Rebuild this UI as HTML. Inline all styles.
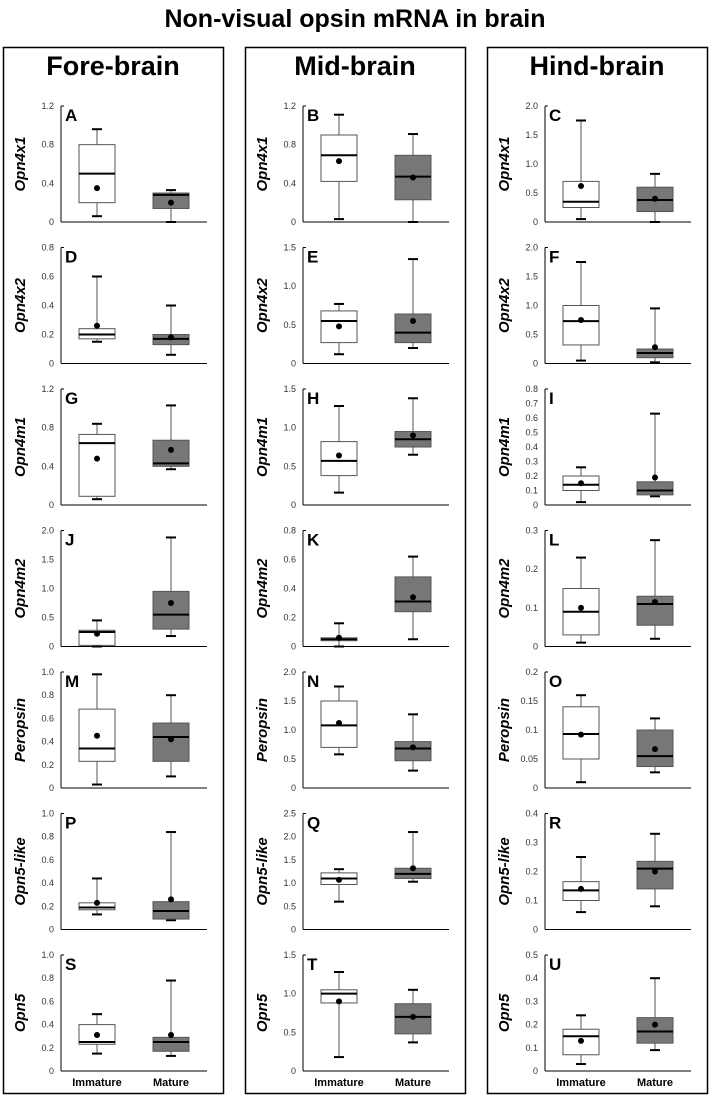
<!DOCTYPE html>
<html><head><meta charset="utf-8"><style>
body{margin:0;background:#fff}
svg{display:block;font-family:"Liberation Sans",Arial,sans-serif}
</style></head><body>
<svg id="c" width="711" height="1099">
<text x="355" y="27" text-anchor="middle" font-size="25" font-weight="bold">Non-visual opsin mRNA in brain</text>
</svg>
<script>
const columns=["Fore-brain","Mid-brain","Hind-brain"];
const genes=["Opn4x1","Opn4x2","Opn4m1","Opn4m2","Peropsin","Opn5-like","Opn5"];
const letters=["A","B","C","D","E","F","G","H","I","J","K","L","M","N","O","P","Q","R","S","T","U"];
const yMax=[1.2,1.2,2.0, 0.8,1.5,2.0, 1.2,1.5,0.8, 2.0,0.8,0.3, 1.0,2.0,0.2, 1.0,2.5,0.4, 1.0,1.5,0.5];
const yStep=[0.4,0.4,0.5, 0.2,0.5,0.5, 0.4,0.5,0.1, 0.5,0.2,0.1, 0.2,0.5,0.05, 0.2,0.5,0.1, 0.2,0.5,0.1];
const tickDigits=[1,1,1, 1,1,1, 1,1,1, 1,1,1, 1,1,2, 1,1,1, 1,1,1];
// [low, q1, median, q3, high, mean]
const immature=[
[0.06,0.2,0.5,0.8,0.96,0.35],[0.03,0.42,0.69,0.9,1.11,0.63],[0.05,0.25,0.35,0.7,1.75,0.62],
[0.15,0.17,0.2,0.24,0.6,0.26],[0.12,0.27,0.55,0.68,0.77,0.48],[0.05,0.32,0.73,1.0,1.75,0.75],
[0.06,0.09,0.64,0.73,0.84,0.48],[0.16,0.38,0.57,0.82,1.28,0.64],[0.02,0.1,0.14,0.2,0.26,0.15],
[0,0.02,0.25,0.28,0.45,0.22],[0,0.04,0.05,0.06,0.16,0.06],[0.01,0.03,0.09,0.15,0.23,0.1],
[0.03,0.23,0.34,0.68,0.98,0.45],[0.58,0.7,1.08,1.5,1.75,1.12],[0.01,0.05,0.093,0.14,0.16,0.092],
[0.13,0.17,0.19,0.23,0.44,0.23],[0.6,0.97,1.1,1.22,1.3,1.07],[0.06,0.1,0.135,0.165,0.25,0.14],
[0.15,0.23,0.25,0.4,0.49,0.31],[0.18,0.88,1.0,1.05,1.28,0.9],[0.03,0.07,0.15,0.18,0.24,0.13]];
const mature=[
[0,0.14,0.28,0.3,0.33,0.2],[0,0.23,0.47,0.69,0.91,0.46],[0,0.18,0.38,0.6,0.83,0.4],
[0.06,0.13,0.17,0.2,0.4,0.18],[0.2,0.27,0.4,0.64,1.35,0.55],[0.02,0.1,0.18,0.25,0.95,0.28],
[0.37,0.4,0.43,0.67,1.03,0.57],[0.65,0.75,0.85,0.95,1.38,0.9],[0.06,0.07,0.1,0.16,0.63,0.19],
[0.18,0.3,0.55,0.95,1.88,0.75],[0.05,0.24,0.31,0.48,0.62,0.34],[0.02,0.055,0.11,0.13,0.275,0.115],
[0.1,0.23,0.44,0.56,0.8,0.42],[0.3,0.47,0.68,0.8,1.27,0.7],[0.027,0.037,0.055,0.1,0.12,0.067],
[0.08,0.09,0.16,0.24,0.84,0.26],[1.03,1.1,1.2,1.32,2.1,1.32],[0.08,0.14,0.21,0.235,0.33,0.2],
[0.13,0.17,0.25,0.29,0.78,0.31],[0.37,0.48,0.7,0.87,1.05,0.7],[0.09,0.12,0.17,0.23,0.4,0.2]];
const groups=["Immature","Mature"];

const svg=document.getElementById('c');
const NS="http://www.w3.org/2000/svg";
function mk(tag,attrs,parent){const e=document.createElementNS(NS,tag);for(const k in attrs)e.setAttribute(k,attrs[k]);(parent||svg).appendChild(e);return e;}
const colX=[3,245,487], colW=220, axisOff=58, boxTop=47, boxBot=1093;
const zeroY0=222, pitch=141.5, ph=116;
columns.forEach((cn,c)=>{
  const r=mk('rect',{x:colX[c]+0.5,y:boxTop+0.5,width:colW,height:boxBot-boxTop,fill:'none',stroke:'#000','stroke-width':1.5});
  
  
  const t=mk('text',{x:colX[c]+colW/2,y:75,'text-anchor':'middle','font-size':27,'font-weight':'bold'});
  t.textContent=cn;
  
  
  groups.forEach((g,gi)=>{
    const lt=mk('text',{x:colX[c]+axisOff+36+gi*74,y:1086,'text-anchor':'middle','font-size':11,'font-weight':'bold'});
    lt.textContent=g;
    
    
  });
});
genes.forEach((gene,r)=>{
  columns.forEach((cn,c)=>{
    const i=r*3+c;
    const ax=colX[c]+axisOff, zy=zeroY0+r*pitch;
    const yv=v=>zy-v/yMax[i]*ph;
    const g=mk('g',{});
    
    
    const yl=mk('text',{transform:`translate(${colX[c]+22},${zy-58}) rotate(-90)`,'text-anchor':'middle','font-size':15,'font-weight':'bold','font-style':'italic'},g);
    yl.textContent=gene;
    
    
    mk('line',{x1:ax,y1:zy-ph,x2:ax,y2:zy,stroke:'#000','stroke-width':1},g);
    mk('line',{x1:ax,y1:zy-ph,x2:ax+3,y2:zy-ph,stroke:'#000','stroke-width':1},g);
    mk('line',{x1:ax,y1:zy,x2:ax+146,y2:zy,stroke:'#000','stroke-width':1},g);
    const n=Math.round(yMax[i]/yStep[i]);
    for(let k=0;k<=n;k++){
      const v=k*yStep[i];
      const tt=mk('text',{x:ax-7,y:yv(v)+3,'text-anchor':'end','font-size':9,fill:'#333'},g);
      tt.textContent=k===0?'0':(tickDigits[i]===2?String(parseFloat(v.toFixed(2))):v.toFixed(tickDigits[i]));
      
      
    }
    const lt=mk('text',{x:ax+4,y:zy-ph+15,'font-size':17,'font-weight':'bold'},g);
    lt.textContent=letters[i];
    
    
    [immature[i],mature[i]].forEach((d,gi)=>{
      const cx=ax+36+gi*74;
      const bg=mk('g',{},g);
      
      
      mk('line',{x1:cx,y1:yv(d[0]),x2:cx,y2:yv(d[4]),stroke:'#555','stroke-width':1},bg);
      mk('line',{x1:cx-5,y1:yv(d[0]),x2:cx+5,y2:yv(d[0]),stroke:'#000','stroke-width':2},bg);
      mk('line',{x1:cx-5,y1:yv(d[4]),x2:cx+5,y2:yv(d[4]),stroke:'#000','stroke-width':2},bg);
      mk('rect',{x:cx-18,y:yv(d[3]),width:36,height:Math.max(1,yv(d[1])-yv(d[3])),fill:gi?'#777':'#fff',stroke:'#555','stroke-width':1},bg);
      mk('line',{x1:cx-18,y1:yv(d[2]),x2:cx+18,y2:yv(d[2]),stroke:'#000','stroke-width':2},bg);
      mk('circle',{cx:cx,cy:yv(d[5]),r:3,fill:'#000'},bg);
    });
  });
});
</script>
</body></html>
